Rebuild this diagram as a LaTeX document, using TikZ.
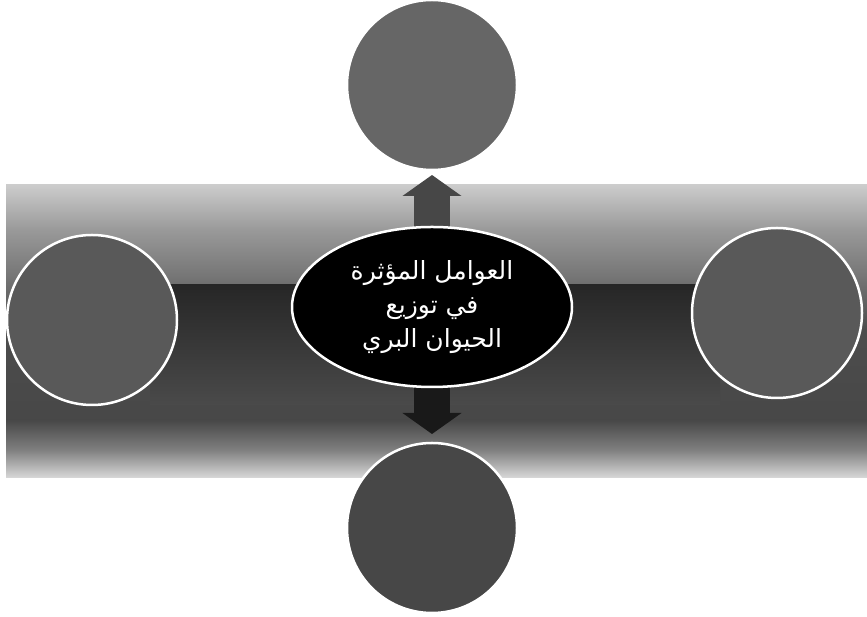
\documentclass[tikz,border=0pt]{standalone}
\usepackage{fontspec}
\newfontfamily\arabicfont[Script=Arabic]{DejaVu Sans}
\TeXXeTstate=1
\usepackage{tikz}
\usetikzlibrary{positioning, arrows.meta, shapes.geometric}
\pgfdeclarelayer{band}
\pgfdeclarelayer{links}
\pgfsetlayers{band,links,main}
\pgfdeclareverticalshading{bandshade}{100bp}{%
  color(0bp)=(black!15); color(25bp)=(black!15); color(29.8bp)=(black!50);
  color(34.9bp)=(black!72); color(50.3bp)=(black!70); color(58.8bp)=(black!55);
  color(67.3bp)=(black!40); color(75bp)=(black!20); color(100bp)=(black!20)}

\begin{document}
\begin{tikzpicture}[x=1pt, y=1pt,
  hub/.style={ellipse, draw=white, line width=2.5pt, fill=black,
    minimum width=280pt, minimum height=160pt, inner sep=0pt, outer sep=0pt,
    text=white, align=center, font=\arabicfont\fontsize{25}{34}\selectfont},
  satellite/.style={circle, draw=white, line width=2.5pt, fill=black!65,
    minimum size=170pt, inner sep=0pt, outer sep=0pt},
  link/.style={line width=36pt, black!72, shorten <=-12pt,
    -{Triangle[width=58pt, length=21pt]}}]

\useasboundingbox (0,0) rectangle (867,617);

% background band
\begin{pgfonlayer}{band}
  \shade[shading=bandshade] (6,139) rectangle (867,432);
  \shade[top color=black!85, bottom color=black!71] (150,212) rectangle (720,332);
\end{pgfonlayer}

\node[hub] (hub) at (432,310)
  {\beginR العوامل المؤثرة\endR\\ \beginR في توزيع\endR\\ \beginR الحيوان البري\endR};
\node[satellite, above=57pt of hub, fill=black!60] (up) {};
\node[satellite, below=56pt of hub, fill=black!72] (down) {};
\node[satellite, left=115pt of hub, yshift=-13pt] (west) {};
\node[satellite, right=120pt of hub, yshift=-6pt] (east) {};

\begin{pgfonlayer}{links}
  \draw[link, shorten >=5pt] (hub) -- (up);
  \draw[link, black!90, shorten >=9pt] (hub) -- (down);
\end{pgfonlayer}
\end{tikzpicture}
\end{document}
